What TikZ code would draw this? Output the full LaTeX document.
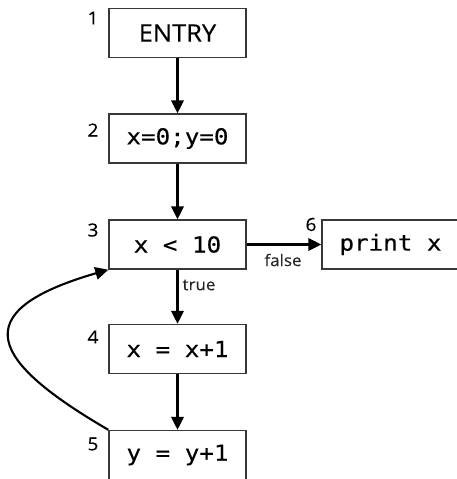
\documentclass[tikz,border=0pt]{standalone}
\usepackage{fontspec}
\setmainfont{Open Sans}
\newfontfamily\codefont[FakeStretch=1.1,FakeBold=0.3]{DejaVu Sans Mono}
\newfontfamily\labelfont[FakeStretch=1.06,FakeBold=0.3]{Open Sans}
\usetikzlibrary{arrows.meta}
\tikzset{
  blockbox/.style={draw=black!78, line width=1.4pt, minimum width=137pt, minimum height=49pt, inner sep=0pt, font=\codefont\fontsize{22}{26}\selectfont},
  sansbox/.style={blockbox, font=\labelfont\fontsize{24}{28}\selectfont},
  numlabel/.style={font=\labelfont\fontsize{18}{21}\selectfont, inner sep=0pt},
  edgelabel/.style={font=\labelfont\fontsize{16}{19}\selectfont, inner sep=0pt, text=black!85},
  flow/.style={line width=2.3pt, -{Triangle[length=13pt,width=12.5pt]}}
}
\begin{document}
\begin{tikzpicture}[x=1pt,y=-1pt]
\useasboundingbox (0,0) rectangle (456,479);
\node[sansbox] (n1) at (177.5,33) {ENTRY};
\node[blockbox] (n2) at (177.5,138.5) {x=0;y=0};
\node[blockbox] (n3) at (177.5,244.5) {x < 10};
\node[blockbox] (n6) at (390.5,244.5) {print x};
\node[blockbox] (n4) at (177.5,349) {x = x+1};
\node[blockbox] (n5) at (177.5,455) {y = y+1};
\node[numlabel] (l1) at (93,18) {1};
\node[numlabel] (l2) at (93,130) {2};
\node[numlabel] (l3) at (93,230) {3};
\node[numlabel] (l6) at (311,224.5) {6};
\node[numlabel] (l4) at (93,337) {4};
\node[numlabel] (l5) at (93,444) {5};
\draw[flow] (n1) -- (n2);
\draw[flow] (n2) -- (n3);
\draw[flow] (n3) -- (n6);
\draw[flow] (n3) -- (n4);
\draw[flow] (n4) -- (n5);
\draw[flow, line width=2.1pt] (n5.north west) .. controls (-8,362) and (-38,312) .. (n3.south west);
\node[edgelabel] (tf) at (283,260) {false};
\node[edgelabel] (tt) at (199,285) {true};
\end{tikzpicture}
\end{document}
